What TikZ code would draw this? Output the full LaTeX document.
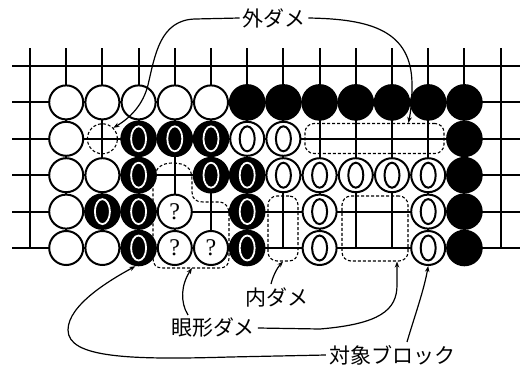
\documentclass[tikz,border=0pt]{standalone}
\usepackage{fontspec}
\setmainfont{Liberation Serif}
\newfontfamily\jp{Noto Sans CJK JP}
\usetikzlibrary{arrows.meta,calc}
\begin{document}
\begin{tikzpicture}[x=1pt,y=-1pt,
  gridline/.style={line width=2pt},
  ws/.style={circle,draw=black,fill=white,line width=2pt,minimum size=34pt,inner sep=0pt},
  bs/.style={circle,fill=black,minimum size=36.6pt,inner sep=0pt},
  wz/.style={ws,path picture={\draw[line width=2pt] (path picture bounding box.center) ellipse [x radius=7.5pt,y radius=12.5pt];}},
  bz/.style={bs,path picture={\draw[white,line width=1.8pt] (path picture bounding box.center) ellipse [x radius=7.5pt,y radius=12.5pt];}},
  wq/.style={ws,font=\fontsize{24}{24}\selectfont},
  dline/.style={line width=1.1pt,dash pattern=on 3pt off 2pt},
  dbox/.style={dline,draw,rounded corners=9pt,inner sep=0pt},
  lead/.style={line width=1.2pt,-{Stealth[length=6pt,width=4.5pt]}},
  lbl/.style={font=\jp\fontsize{21}{21}\selectfont,inner sep=3pt},
]
\useasboundingbox (0,0) rectangle (520,367);
% points
\foreach \i in {0,...,13}
  \foreach \j in {0,...,5}
    \coordinate (p\i-\j) at ({30+36.2*\i},{66+36.4*\j});
% grid
\foreach \i in {0,...,13}
  \draw[gridline] ({30+36.2*\i},48) -- ({30+36.2*\i},249);
\foreach \j in {0,...,5}
  \draw[gridline] (12,{66+36.4*\j}) -- (520,{66+36.4*\j});
% row 1
\foreach \i in {1,...,5} \node[ws] (s\i-1) at (p\i-1) {};
\foreach \i in {6,...,12} \node[bs] (s\i-1) at (p\i-1) {};
% row 2
\node[ws] (s1-2) at (p1-2) {};
\foreach \i in {3,4,5} \node[bz] (s\i-2) at (p\i-2) {};
\foreach \i in {6,7} \node[wz] (s\i-2) at (p\i-2) {};
\node[bs] (s12-2) at (p12-2) {};
% row 3
\foreach \i in {1,2} \node[ws] (s\i-3) at (p\i-3) {};
\foreach \i in {3,5,6} \node[bz] (s\i-3) at (p\i-3) {};
\foreach \i in {7,...,11} \node[wz] (s\i-3) at (p\i-3) {};
\node[bs] (s12-3) at (p12-3) {};
% row 4
\node[ws] (s1-4) at (p1-4) {};
\foreach \i in {2,3,6} \node[bz] (s\i-4) at (p\i-4) {};
\node[wq] (s4-4) at (p4-4) {?};
\foreach \i in {8,11} \node[wz] (s\i-4) at (p\i-4) {};
\node[bs] (s12-4) at (p12-4) {};
% row 5
\foreach \i in {1,2} \node[ws] (s\i-5) at (p\i-5) {};
\foreach \i in {3,6} \node[bz] (s\i-5) at (p\i-5) {};
\foreach \i in {4,5} \node[wq] (s\i-5) at (p\i-5) {?};
\foreach \i in {8,11} \node[wz] (s\i-5) at (p\i-5) {};
\node[bs] (s12-5) at (p12-5) {};
% dashed liberties
\node[dline,draw,circle,minimum size=30pt,inner sep=0pt] (dC) at (p2-2) {};
\node[dbox,minimum width=139pt,minimum height=30pt] (dA) at (374.5,138.5) {};
\node[dbox,minimum width=30pt,minimum height=65pt] (dI) at (283,228.5) {};
\node[dbox,minimum width=66pt,minimum height=65pt] (dE) at (375,228.5) {};
\draw[dline] (153,185) .. controls (153,170) and (160,163) .. (172,163)
  .. controls (186,163) and (192,168) .. (192,180) -- (192,192)
  .. controls (192,199) and (196,202) .. (203,202) -- (218,202)
  .. controls (226,202) and (229,207) .. (229,215) -- (229,258)
  .. controls (229,265) and (226,268) .. (219,268) -- (163,268)
  .. controls (156,268) and (153,265) .. (153,258) -- cycle;
\coordinate (eyeB) at (192,268);
% labels
\node[lbl] (lOut) at (274,18) {外ダメ};
\node[lbl] (lIn) at (277,297) {内ダメ};
\node[lbl] (lEye) at (213,328) {眼形ダメ};
\node[lbl] (lTgt) at (392,355) {対象ブロック};
% leaders
\draw[lead] (lOut.west) -- (195,19) .. controls (160,20) and (155,55) .. (148,85)
  .. controls (143,105) and (130,118) .. (dC.north east);
\draw[lead] (lOut.east) .. controls (370,19) and (412,30) .. (412,85)
  .. controls (412,105) and (410,115) .. ([xshift=34pt]dA.north);
\draw[lead] ([xshift=-6pt]lIn.north) .. controls (273,276) and (277,268) .. (dI.south);
\draw[lead] ([xshift=-25pt]lEye.north) .. controls (180,302) and (181,285) .. (eyeB);
\draw[lead] (lEye.east) -- (320,329) .. controls (380,324) and (397,310) .. (397,285)
  -- ([xshift=22pt]dE.south);
\draw[lead] ([xshift=15pt]lTgt.north) .. controls (415,315) and (424,290) .. (s11-5.south);
\draw[lead] (lTgt.west) -- (230,357) .. controls (130,360) and (68,358) .. (68,330)
  .. controls (68,305) and (110,280) .. (s3-5.-100);
\end{tikzpicture}
\end{document}
